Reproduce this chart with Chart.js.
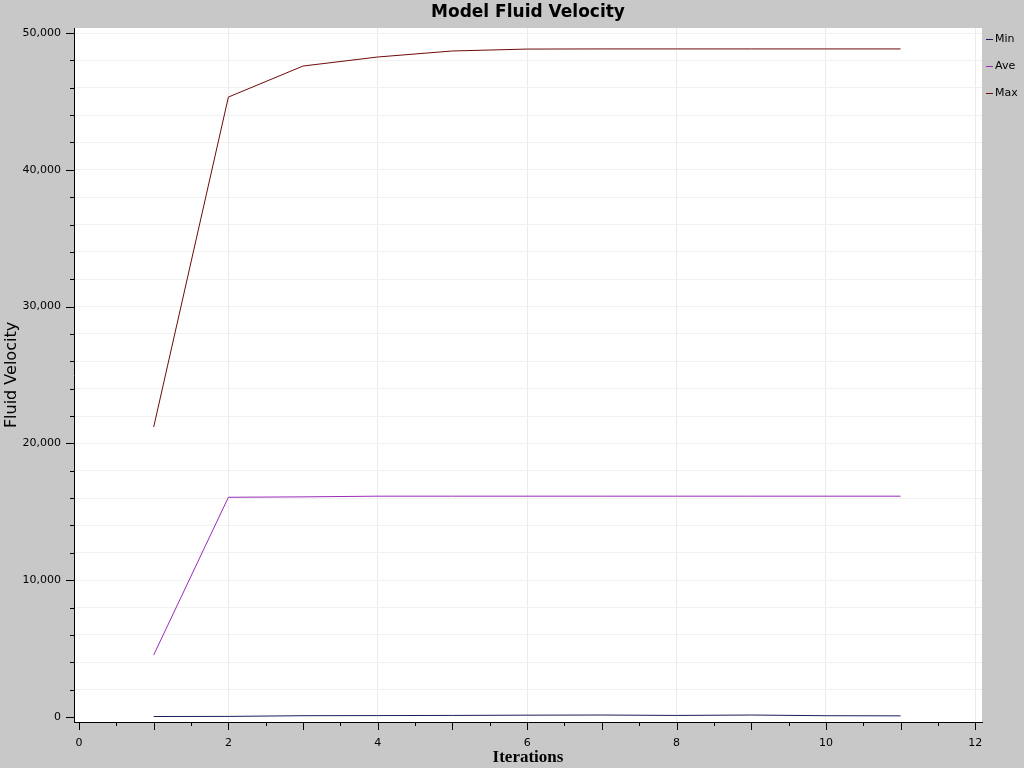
<!DOCTYPE html>
<html>
<head>
<meta charset="utf-8">
<script src="https://cdn.jsdelivr.net/npm/chart.js@4/dist/chart.umd.min.js"></script>
<style>
  html, body { margin: 0; padding: 0; background: #c8c8c8; }
  #wrap { width: 1024px; height: 768px; }
</style>
</head>
<body>
<div id="wrap"><canvas id="line-chart" width="1024" height="768"></canvas></div>
<script>
const iterations = [1, 2, 3, 4, 5, 6, 7, 8, 9, 10, 11];
const minVelocity = [30, 40, 90, 100, 110, 130, 140, 110, 140, 90, 80];
const aveVelocity = [4530, 16060, 16090, 16140, 16140, 16140, 16140, 16140, 16140, 16140, 16140];
const maxVelocity = [21200, 45320, 47590, 48250, 48690, 48830, 48840, 48840, 48840, 48840, 48840];
const seriesLabels = ['Min', 'Ave', 'Max'];
const seriesColors = ['#1c1c5c', '#9a2cb8', '#6e0a0a'];
const chartTitle = 'Model Fluid Velocity';

const tickFont = { family: 'DejaVu Sans, sans-serif', size: 11 };

const toPoints = (values) => values.map((v, i) => ({ x: iterations[i], y: v }));

// gray page, white plot area
const backdrop = {
  id: 'backdrop',
  beforeDraw(chart) {
    const { ctx, chartArea: a } = chart;
    ctx.save();
    ctx.fillStyle = '#c8c8c8';
    ctx.fillRect(0, 0, chart.width, chart.height);
    ctx.fillStyle = '#ffffff';
    ctx.fillRect(a.left, a.top, a.right - a.left, a.bottom - a.top);
    ctx.restore();
  },
};

// title centred over the plot area, not the whole canvas
const plotTitle = {
  id: 'plotTitle',
  afterDraw(chart) {
    const { ctx, chartArea: a } = chart;
    ctx.save();
    ctx.font = 'bold 17px DejaVu Sans, sans-serif';
    ctx.fillStyle = '#000';
    ctx.textAlign = 'center';
    ctx.textBaseline = 'middle';
    ctx.fillText(chartTitle, (a.left + a.right) / 2, 13);
    ctx.restore();
  },
};

// outward tick marks, long on labelled ticks, short on the rest
const tickMarks = {
  id: 'tickMarks',
  afterDraw(chart) {
    const { ctx, chartArea: a } = chart;
    const xs = chart.scales.x;
    const ys = chart.scales.y;
    ctx.save();
    ctx.strokeStyle = '#000';
    ctx.lineWidth = 1;
    ctx.beginPath();
    ys.ticks.forEach((t) => {
      const py = Math.round(ys.getPixelForValue(t.value)) + 0.5;
      const len = t.value % 10000 === 0 ? 8 : 4;
      ctx.moveTo(a.left - len, py);
      ctx.lineTo(a.left, py);
    });
    xs.ticks.forEach((t) => {
      const px = Math.round(xs.getPixelForValue(t.value)) + 0.5;
      const len = t.value % 1 === 0 ? 8 : 4;
      ctx.moveTo(px, a.bottom);
      ctx.lineTo(px, a.bottom + len);
    });
    ctx.stroke();
    ctx.restore();
  },
};

// legend in the gray strip to the right of the plot
const sideLegend = {
  id: 'sideLegend',
  afterDraw(chart) {
    const { ctx, chartArea: a } = chart;
    ctx.save();
    ctx.font = '11px DejaVu Sans, sans-serif';
    ctx.textBaseline = 'middle';
    chart.data.datasets.forEach((ds, i) => {
      const y = a.top + 11 + i * 27;
      ctx.strokeStyle = ds.borderColor;
      ctx.lineWidth = 1;
      ctx.beginPath();
      ctx.moveTo(a.right + 4, y + 0.5);
      ctx.lineTo(a.right + 11, y + 0.5);
      ctx.stroke();
      ctx.fillStyle = '#000';
      ctx.fillText(ds.label, a.right + 13, y);
    });
    ctx.restore();
  },
};

const datasets = [minVelocity, aveVelocity, maxVelocity].map((values, i) => ({
  label: seriesLabels[i],
  data: toPoints(values),
  borderColor: seriesColors[i],
  backgroundColor: seriesColors[i],
  borderWidth: 1,
  pointRadius: 0,
  tension: 0,
  fill: false,
}));

new Chart(document.getElementById('line-chart').getContext('2d'), {
  type: 'line',
  data: { datasets },
  plugins: [backdrop, plotTitle, tickMarks, sideLegend],
  options: {
    responsive: false,
    animation: false,
    events: [],
    layout: { padding: { top: 28, right: 42 } },
    plugins: {
      legend: { display: false },
      tooltip: { enabled: false },
      title: { display: false },
    },
    scales: {
      x: {
        type: 'linear',
        min: -0.067,
        max: 12.09,
        afterBuildTicks(scale) {
          const ticks = [];
          for (let v = 0; v <= 12; v += 0.5) ticks.push({ value: v });
          scale.ticks = ticks;
        },
        afterFit(scale) { scale.height = 46; },
        border: { display: true, color: '#000', width: 1 },
        grid: {
          drawTicks: false,
          color: (c) => (c.tick && c.tick.value % 2 === 0 && c.tick.value > 0 ? '#ebebeb' : 'rgba(0,0,0,0)'),
        },
        ticks: {
          padding: 15,
          color: '#000',
          font: tickFont,
          maxRotation: 0,
          autoSkip: false,
          callback: (v) => (v % 2 === 0 ? String(v) : ''),
        },
        title: {
          display: true,
          text: 'Iterations',
          color: '#000',
          font: { family: 'Liberation Serif, serif', size: 17, weight: 'bold' },
          padding: { top: 0, bottom: 0 },
        },
      },
      y: {
        type: 'linear',
        min: -370,
        max: 50370,
        afterBuildTicks(scale) {
          const ticks = [];
          for (let v = 0; v <= 50000; v += 2000) ticks.push({ value: v });
          scale.ticks = ticks;
        },
        afterFit(scale) { scale.width = 74; },
        border: { display: true, color: '#000', width: 1 },
        grid: {
          drawTicks: false,
          color: (c) => (c.tick && c.tick.value > 0 ? '#f1f1f1' : 'rgba(0,0,0,0)'),
        },
        ticks: {
          padding: 13,
          color: '#000',
          font: tickFont,
          autoSkip: false,
          callback: (v) => (v % 10000 === 0 ? v.toLocaleString('en-US') : ''),
        },
        title: {
          display: true,
          text: 'Fluid Velocity',
          color: '#000',
          font: { family: 'DejaVu Sans, sans-serif', size: 16 },
          padding: { top: 2, bottom: 0 },
        },
      },
    },
  },
});
</script>
</body>
</html>
